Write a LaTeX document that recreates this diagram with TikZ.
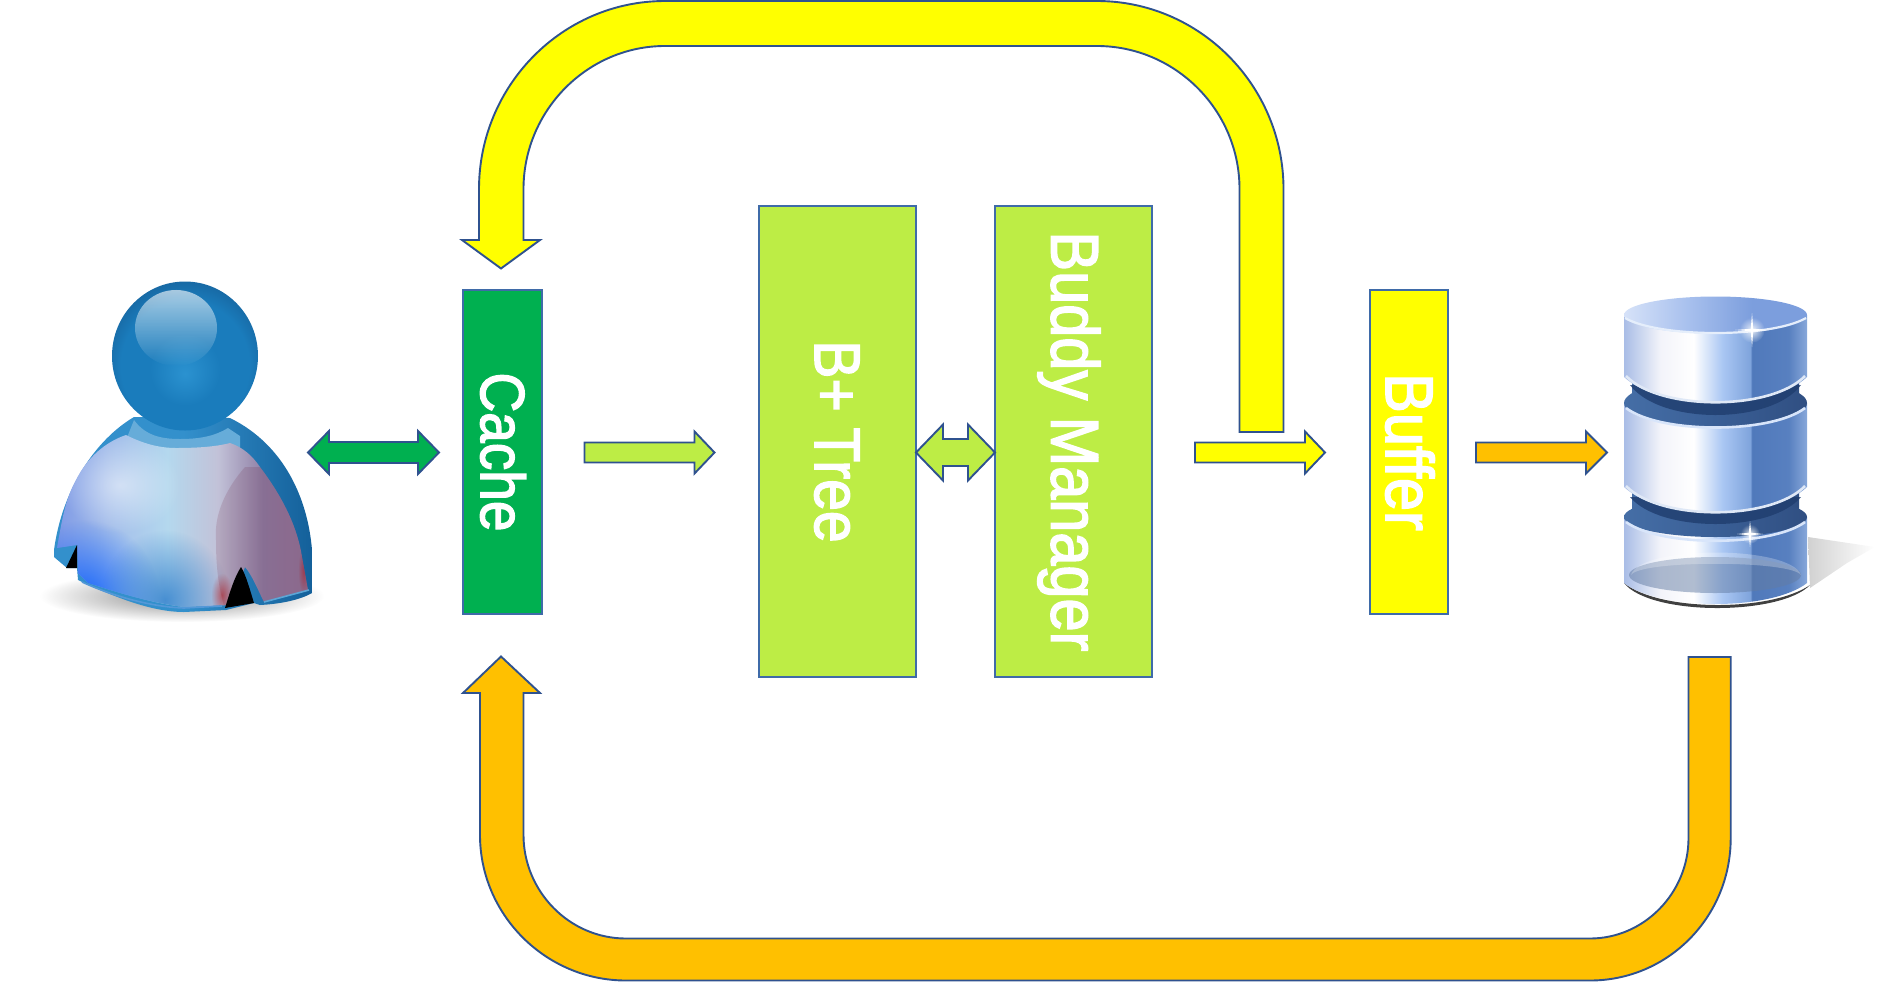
\documentclass[tikz,border=0pt]{standalone}
\usepackage{fontspec}
\setmainfont{Liberation Sans}
\newfontfamily\lblfont[FakeBold=2.4]{Liberation Sans}
\usetikzlibrary{fadings,calc}
\definecolor{edgeA}{HTML}{3F6BA8}
\definecolor{edgeB}{HTML}{2F528F}
\definecolor{cGreen}{HTML}{00B050}
\definecolor{cLime}{HTML}{BDED45}
\definecolor{cYellow}{HTML}{FFFF00}
\definecolor{cOrange}{HTML}{FFC000}
% cylinder colours
\definecolor{cyA}{HTML}{A9BDE6}\definecolor{cyB}{HTML}{F3F4FA}\definecolor{cyC}{HTML}{FFFFFF}
\definecolor{cyD}{HTML}{A9C6F3}\definecolor{cyE}{HTML}{7FA4DC}\definecolor{cyF}{HTML}{5079BB}
\definecolor{cyG}{HTML}{5880C0}\definecolor{cyH}{HTML}{88A8DA}
\pgfdeclarehorizontalshading{cylside}{100bp}{color(0bp)=(cyA);color(25bp)=(cyA);color(35bp)=(cyB);color(44bp)=(cyC);color(52bp)=(cyD);color(59.5bp)=(cyE);color(60bp)=(cyF);color(70bp)=(cyG);color(75bp)=(cyH);color(100bp)=(cyH)}
\definecolor{toA}{HTML}{D6E2F8}\definecolor{toB}{HTML}{A9C1EE}\definecolor{toC}{HTML}{7C9EDD}
\pgfdeclarehorizontalshading{cyltop}{100bp}{color(0bp)=(toA);color(25bp)=(toA);color(42bp)=(toB);color(60bp)=(toC);color(75bp)=(toC);color(100bp)=(toC)}
\definecolor{grA}{HTML}{456EA6}\definecolor{grB}{HTML}{3A5F96}\definecolor{grC}{HTML}{304F82}
\pgfdeclarehorizontalshading{cylgroove}{100bp}{color(0bp)=(grA);color(25bp)=(grA);color(50bp)=(grB);color(75bp)=(grC);color(100bp)=(grC)}
\definecolor{bandA}{HTML}{1F3D6E}
% person colours
\definecolor{paA}{HTML}{7F9AE6}\definecolor{paB}{HTML}{A2BCEA}\definecolor{paC}{HTML}{B4D8EE}
\definecolor{paD}{HTML}{C2C2D8}\definecolor{paE}{HTML}{9080A6}\definecolor{paF}{HTML}{95789C}
\pgfdeclarehorizontalshading{shirt}{100bp}{color(0bp)=(paA);color(25bp)=(paA);color(35bp)=(paB);color(47bp)=(paC);color(57bp)=(paD);color(66bp)=(paE);color(75bp)=(paF);color(100bp)=(paF)}
\definecolor{blA}{HTML}{3390CC}\definecolor{blB}{HTML}{14609A}
\pgfdeclarehorizontalshading{shirtbase}{100bp}{color(0bp)=(blA);color(25bp)=(blA);color(50bp)=(blA);color(75bp)=(blB);color(100bp)=(blB)}
\definecolor{heA}{HTML}{2B92D0}\definecolor{heB}{HTML}{1A7CBC}\definecolor{heC}{HTML}{17659F}
\pgfdeclareradialshading{headball}{\pgfpoint{0bp}{-6bp}}{color(0bp)=(heA);color(12bp)=(heB);color(22bp)=(heB);color(29bp)=(heC);color(50bp)=(heC)}
\tikzfading[name=softblob, inner color=transparent!15, outer color=transparent!100]
\tikzfading[name=softblobb, inner color=transparent!50, outer color=transparent!100]
\tikzset{
  boxa/.style={draw=edgeA,line width=2pt,rotate=-90,inner sep=0pt,text=white},
  barrow/.style={draw=edgeB,line width=1.9pt,line join=miter},
}
% block arrow: style, from, to, head length, shaft half, head half
\newcommand{\blockR}[6]{\draw[barrow,fill=#1] let \p1=(#2),\p2=(#3) in
 (\x1,\y1+#5pt) -- (\x2-#4pt,\y1+#5pt) -- (\x2-#4pt,\y1+#6pt) -- (\x2,\y1) -- (\x2-#4pt,\y1-#6pt) -- (\x2-#4pt,\y1-#5pt) -- (\x1,\y1-#5pt) -- cycle;}
\newcommand{\blockD}[6]{\draw[barrow,fill=#1] let \p1=(#2),\p2=(#3) in
 (\x1,\y1) -- (\x1+#4pt,\y1+#6pt) -- (\x1+#4pt,\y1+#5pt) -- (\x2-#4pt,\y1+#5pt) -- (\x2-#4pt,\y1+#6pt) -- (\x2,\y1) -- (\x2-#4pt,\y1-#6pt) -- (\x2-#4pt,\y1-#5pt) -- (\x1+#4pt,\y1-#5pt) -- (\x1+#4pt,\y1-#6pt) -- cycle;}
% cylinder tier: top y, bottom edge y, control y
\newcommand{\cyltier}[3]{\shade[shading=cylside] (1624,#1) -- (1624,#2) .. controls (1660,#3) and (1771,#3) .. (1807,#2) -- (1807,#1) -- cycle;}
\newcommand{\sparkle}[3]{\fill[white] (#1-#3,#2) -- (#1-1.2,#2-1.2) -- (#1,#2-#3) -- (#1+1.2,#2-1.2) -- (#1+#3,#2) -- (#1+1.2,#2+1.2) -- (#1,#2+#3) -- (#1-1.2,#2+1.2) -- cycle;
 \fill[white,path fading=softblob] (#1,#2) circle (#3*.75);}
\newcommand{\shirtpath}{(126,435) .. controls (142,443) and (158,448) .. (176,448) .. controls (195,448) and (215,447) .. (230,443)
  .. controls (242,447) and (252,455) .. (260,467) .. controls (285,500) and (298,530) .. (302,557)
  -- (308,590) -- (264,602) .. controls (258,590) and (252,575) .. (245,567) -- (230,605)
  -- (184,607) .. controls (150,603) and (110,590) .. (88,583) -- (78,573) -- (77,545) -- (57,548)
  .. controls (62,520) and (65,500) .. (76,480) .. controls (87,458) and (105,442) .. (126,435) -- cycle}
\begin{document}
\begin{tikzpicture}[x=1pt,y=-1pt]
\useasboundingbox (0,0) rectangle (1886,983);
% ---------- user figure ----------
\coordinate (user) at (185,450);
\fill[black!55,path fading=softblob] (182,596) ellipse [x radius=142,y radius=26];
% body base
\shade[shading=shirtbase] (134,417) .. controls (95,440) and (62,490) .. (54,550) -- (54,557)
  -- (67,568) -- (77,568) -- (78,580) .. controls (110,595) and (150,612) .. (184,612)
  -- (226,610) -- (254,603) -- (260,605) .. controls (280,604) and (300,600) .. (312,593)
  -- (312,550) .. controls (308,500) and (285,445) .. (230,418) -- cycle;
% collar
\fill[blA!75!white] (134,420) .. controls (145,435) and (160,439) .. (180,439) .. controls (200,439) and (215,436) .. (228,428) -- (240,436) -- (240,450) -- (176,452) -- (126,440) -- cycle;
% shirt face
\shade[shading=shirt] \shirtpath;
\begin{scope}
\clip \shirtpath;
\fill[blue!65!cyan,path fading=softblob] (85,600) ellipse [x radius=75,y radius=80];
\fill[cyan!55!blue!85!white,path fading=softblob] (165,600) ellipse [x radius=65,y radius=70];
\fill[white,path fading=softblobb] (120,485) ellipse [x radius=60,y radius=48];
\fill[black!55!purple,opacity=.13] (245,467) .. controls (225,490) and (214,515) .. (216,540) .. controls (216,565) and (218,585) .. (224,606)
  -- (312,610) -- (312,467) -- cycle;
\fill[red!70!black,opacity=.6,path fading=softblob] (222,595) ellipse [x radius=11,y radius=22];
\fill[red!70!black,opacity=.5,path fading=softblob] (304,570) ellipse [x radius=6,y radius=24];
\end{scope}
% bottom rim
\draw[cyan!60!blue!70!white,line width=1.6pt] (82,582) .. controls (110,595) and (150,607) .. (184,608) -- (222,606);
\draw[blA!80!white,line width=1.6pt] (264,602) -- (309,590);
% notches
\fill[black] (77,545) -- (66,568) -- (77,568) -- cycle;
\fill[black] (241,567) .. controls (234,578) and (230,592) .. (225,608) -- (254,603) .. controls (250,590) and (246,575) .. (241,567) -- cycle;
% head
\shade[shading=headball] (185,356) ellipse [x radius=73,y radius=74.5];
\fill[white,opacity=.62,path fading=south] (176,328) ellipse [x radius=41,y radius=38];
% ---------- database figure ----------
\coordinate (db) at (1715,450);
\shade[left color=black!18,right color=white] (1808,537) -- (1875,547) -- (1847,563) -- (1810,588) -- cycle;
% bottom shadow crescent
\fill[black!75] (1624,583) .. controls (1660,612) and (1771,612) .. (1810,585) .. controls (1780,616) and (1650,616) .. (1624,583) -- cycle;
\cyltier{517}{583}{611}
\fill[cyF!60!gray,opacity=.5] (1715,575) ellipse [x radius=86,y radius=18];
\fill[white,opacity=.25] (1631,575) .. controls (1640,545) and (1790,545) .. (1801,575) .. controls (1790,560) and (1640,560) .. (1631,575) -- cycle;
% lower groove
\shade[shading=cylgroove] (1632,485) rectangle (1799,518);
\shade[shading=cylgroove] (1715.5,517) ellipse [x radius=91.5,y radius=20];
\draw[cyC!55!cyD,line width=2.6pt] (1626,522) .. controls (1660,547) and (1771,547) .. (1805,522);
\fill[bandA,opacity=.8] (1630,497) .. controls (1660,533) and (1771,533) .. (1801,497) -- cycle;
\cyltier{403}{487}{521}
\draw[cyC!75!cyE,line width=2.6pt] (1626,486) .. controls (1660,521) and (1771,521) .. (1805,486);
% middle groove
\shade[shading=cylgroove] (1632,372) rectangle (1799,404);
\shade[shading=cylgroove] (1715.5,403) ellipse [x radius=91.5,y radius=24];
\draw[cyC!55!cyD,line width=2.6pt] (1626,408) .. controls (1660,434) and (1771,434) .. (1805,408);
\fill[bandA,opacity=.8] (1630,385) .. controls (1660,425) and (1771,425) .. (1801,385) -- cycle;
\cyltier{315}{377}{411}
\draw[cyC!75!cyE,line width=2.6pt] (1626,376) .. controls (1660,411) and (1771,411) .. (1805,376);
% top
\shade[shading=cyltop] (1715.5,315) ellipse [x radius=91.5,y radius=18.5];
\draw[cyC!70!cyD,line width=2.2pt] (1625,318) .. controls (1660,338) and (1771,338) .. (1806,318);
\sparkle{1752}{330}{17}
\sparkle{1750}{534}{13}
% ---------- boxes ----------
\node[boxa,fill=cGreen,minimum width=324pt,minimum height=79pt,text height=43pt,text depth=0pt] (cache) at (502.4,452)
  {\fontsize{55}{60}\lblfont\selectfont\scalebox{1}[1.13]{Cache}};
\node[boxa,fill=cLime,minimum width=471pt,minimum height=157pt,text height=45pt,text depth=0pt] (btree) at (837.5,441.5)
  {\fontsize{57}{60}\lblfont\selectfont\scalebox{1}[1.13]{B+ Tree}};
\node[boxa,fill=cLime,minimum width=471pt,minimum height=157pt,text height=44pt,text depth=0pt] (buddy) at (1073.5,441.5)
  {\fontsize{59.5}{60}\lblfont\selectfont\scalebox{1}[1.13]{Buddy Manager}};
\node[boxa,fill=cYellow,minimum width=324pt,minimum height=78pt,text height=46pt,text depth=0pt] (buffer) at (1409,452)
  {\fontsize{59.5}{60}\lblfont\selectfont\scalebox{1}[1.13]{Buffer}};
% ---------- straight arrows ----------
\coordinate (ua) at (308,452.5);   \coordinate (ub) at (439,452.5);
\coordinate (ca) at (584.5,452.5); \coordinate (cb) at (714.5,452.5);
\coordinate (ba) at (916,452.5);   \coordinate (bb) at (995,452.5);
\coordinate (ma) at (1195,452.5);  \coordinate (mb) at (1325,452.5);
\coordinate (fa) at (1476,452.5);  \coordinate (fb) at (1607,452.5);
\blockD{cGreen}{ua}{ub}{21}{10.5}{21.5}
\blockR{cLime}{ca}{cb}{20}{10}{21}
\blockD{cLime}{ba}{bb}{27}{13.5}{28}
\blockR{cYellow}{ma}{mb}{20}{10}{21}
\blockR{cOrange}{fa}{fb}{21}{10}{21}
% ---------- big yellow return arrow ----------
\coordinate (yto) at (501,268.5);
\coordinate (yfrom) at (1262,432);
\draw[barrow,fill=cYellow] (yto) -- (540,240) -- (523.5,240) -- (523.5,189)
  .. controls (523.5,111) and (587,46) .. (665,46)
  -- (1097,46) .. controls (1175,46) and (1239.5,110) .. (1239.5,189)
  -- (1239.5,432) -- (yfrom) -- (1283.5,432) -- (1283.5,189)
  .. controls (1283.5,86) and (1200,1) .. (1097,1)
  -- (665,1) .. controls (562,1) and (479,86) .. (479,189)
  -- (479,240) -- (462,240) -- cycle;
% ---------- big orange return arrow ----------
\coordinate (oto) at (501,656.5);
\coordinate (ofrom) at (1709,657);
\draw[barrow,fill=cOrange] (oto) -- (540,693) -- (523.5,693) -- (523.5,835)
  .. controls (523.5,891) and (569,938.5) .. (626,938.5)
  -- (1590,938.5) .. controls (1644,938.5) and (1688.5,893) .. (1688.5,838)
  -- (1688.5,657) -- (ofrom) -- (1730.7,657) -- (1730.7,838)
  .. controls (1730.7,917) and (1668,980.5) .. (1590,980.5)
  -- (626,980.5) .. controls (546,980.5) and (480,915) .. (480,835)
  -- (480,693) -- (463,693) -- cycle;
\end{tikzpicture}
\end{document}
